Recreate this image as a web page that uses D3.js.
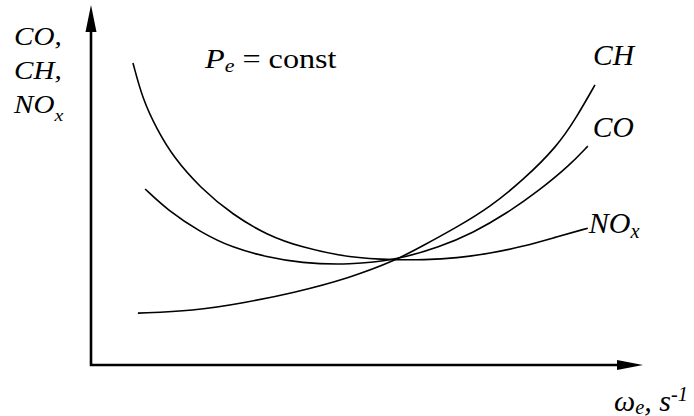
<!DOCTYPE html>
<html>
<head>
<meta charset="utf-8">
<script src="https://cdn.jsdelivr.net/npm/d3@7"></script>
<style>
  body { margin: 0; background: #fff; }
</style>
</head>
<body>
<svg id="chart" width="694" height="416"></svg>
<script>
// ---- data (arbitrary units) ----
const seriesNames = ["CH", "CO", "NOx"];

const chX = [0.85, 1.85, 2.75, 3.66, 4.69, 5.54, 6.01, 6.63, 7.23, 7.83, 8.44, 8.80, 9.13];
const chY = [1.44, 1.50, 1.72, 2.00, 2.42, 2.92, 3.31, 3.83, 4.39, 5.14, 6.06, 6.89, 7.78];

const coX = [0.98, 1.38, 1.98, 2.57, 3.19, 3.79, 4.69, 5.54, 6.32, 6.92, 7.54, 8.13, 8.68, 9.00];
const coY = [4.89, 4.31, 3.69, 3.25, 3.00, 2.83, 2.78, 2.92, 3.28, 3.67, 4.22, 4.86, 5.56, 6.08];

const noxX = [0.76, 0.94, 1.20, 1.49, 1.98, 2.57, 3.19, 3.79, 4.69, 5.54, 6.01, 6.63, 7.23, 7.83, 8.44, 9.00];
const noxY = [8.39, 7.36, 6.53, 5.78, 4.92, 4.17, 3.61, 3.28, 2.97, 2.92, 2.92, 2.97, 3.10, 3.29, 3.56, 3.80];

const xDomain = [0, 10];
const yDomain = [0, 10];

const serif = "Liberation Serif";

// ---- scales ----
const svg = d3.select("#chart");
const x = d3.scaleLinear().domain(xDomain).range([91, 643]);
const y = d3.scaleLinear().domain(yDomain).range([365, 5]);

const toPoints = (xs, ys) => xs.map((v, i) => [v, ys[i]]);
const series = [
  { name: "CH", pts: toPoints(chX, chY) },
  { name: "CO", pts: toPoints(coX, coY) },
  { name: "NOx", pts: toPoints(noxX, noxY) },
];

// ---- axes with arrow heads ----
const axisG = svg.append("g");
const x0 = x(0), y0 = y(0), xEnd = x(xDomain[1]), yEnd = y(yDomain[1]);

axisG.append("path")
  .attr("d", `M${x0},${yEnd + 20} L${x0},${y0} L${xEnd - 20},${y0}`)
  .attr("fill", "none")
  .attr("stroke", "#000")
  .attr("stroke-width", 2.6)
  .attr("stroke-linejoin", "miter");

// y arrow
axisG.append("path")
  .attr("d", `M${x0},${yEnd} L${x0 + 5.5},${yEnd + 27} L${x0 - 5.5},${yEnd + 27} Z`)
  .attr("fill", "#000");
// x arrow
axisG.append("path")
  .attr("d", `M${xEnd},${y0} L${xEnd - 26},${y0 - 5} L${xEnd - 26},${y0 + 5} Z`)
  .attr("fill", "#000");

// ---- curves ----
const line = d3.line()
  .x((d) => x(d[0]))
  .y((d) => y(d[1]))
  .curve(d3.curveBasis);

svg.selectAll(".curve")
  .data(series)
  .enter()
  .append("path")
  .attr("class", "curve")
  .attr("d", (d) => line(d.pts))
  .attr("fill", "none")
  .attr("stroke", "#000")
  .attr("stroke-width", 1.6);

// ---- labels ----
// parts: [text, italic, shift] ; shift > 0 = subscript, < 0 = superscript
function label(g, xPos, yPos, size, sx, parts) {
  const t = g.append("text")
    .attr("transform", `translate(${xPos},${yPos}) scale(${sx},1)`)
    .attr("font-family", serif)
    .attr("font-size", size);
  let cur = 0;
  parts.forEach(([txt, italic, shift]) => {
    const s = shift || 0;
    t.append("tspan")
      .attr("font-style", italic ? "italic" : "normal")
      .attr("font-size", s ? size * 0.68 : size)
      .attr("dy", s - cur)
      .text(txt);
    cur = s;
  });
  return t;
}

const labelG = svg.append("g");
series.forEach((s) => {
  const last = s.pts[s.pts.length - 1];
  const lx = x(last[0]), ly = y(last[1]);
  if (s.name === "CH") label(labelG, lx - 2, ly - 20, 29.5, 1, [["CH", true]]);
  if (s.name === "CO") label(labelG, lx + 5, ly - 9, 29.5, 1, [["CO", true]]);
  if (s.name === "NOx") label(labelG, lx + 1, ly + 5, 30, 1, [["NO", true], ["x", true, 5]]);
});

// y axis title (stacked)
label(labelG, 14, 45, 26, 1.12, [["CO,", true]]);
label(labelG, 14, 79, 26, 1.12, [["CH,", true]]);
label(labelG, 14, 113, 26, 1.12, [["NO", true], ["x", true, 8]]);

// P_e = const
label(labelG, 205, 68, 28, 1.15, [["P", true], ["e", true, 4], [" = const", false]]);

// x axis title
label(labelG, 614, 411, 30, 1, [["ω", true], ["e", true, 3], [", s", true], ["-1", true, -10]]);
</script>
</body>
</html>
